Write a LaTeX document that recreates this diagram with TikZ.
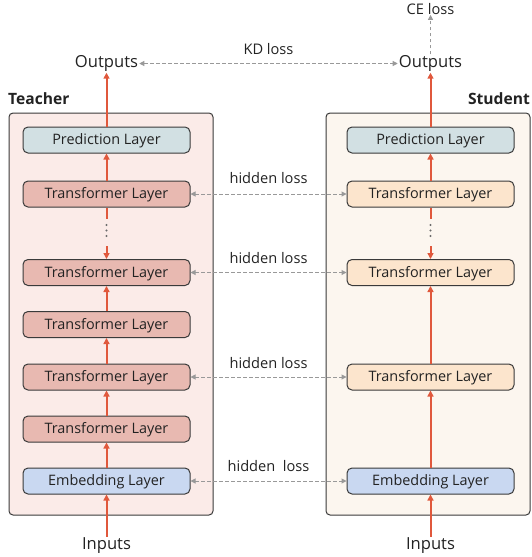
\documentclass[tikz,border=0pt]{standalone}
\usepackage{fontspec}
\setmainfont{Open Sans}
\usetikzlibrary{arrows.meta}
\definecolor{framebd}{HTML}{3A3A3A}
\definecolor{teacherbg}{HTML}{FBEBE8}
\definecolor{studentbg}{HTML}{FCF6EF}
\definecolor{predfill}{HTML}{D2E0E3}
\definecolor{ttfill}{HTML}{E8B9B1}
\definecolor{stfill}{HTML}{FCE5CD}
\definecolor{embfill}{HTML}{C9D8F1}
\definecolor{flowred}{HTML}{E0583C}
\definecolor{lossgray}{HTML}{999999}
\definecolor{txt}{HTML}{222222}
\tikzset{
  panel/.style={draw=framebd, line width=1pt, rounded corners=4pt},
  layerbox/.style={draw=framebd, line width=1pt, rounded corners=5pt,
    minimum width=167pt, minimum height=26pt, inner sep=0pt,
    text height=13pt, text depth=3.5pt,
    text=txt, font=\fontsize{14.4}{16}\selectfont},
  io/.style={text=txt, font=\fontsize{16.6}{19}\selectfont, inner sep=1pt},
  losslabel/.style={text=txt, font=\fontsize{14.6}{17}\selectfont, inner sep=0pt},
  title/.style={text=txt, font=\fontsize{15.6}{18}\selectfont\bfseries, inner sep=0pt},
  flow/.style={draw=flowred, line width=2pt, -{Triangle[length=6pt,width=6pt]}},
  flowplain/.style={draw=flowred, line width=2pt},
  lossarrow/.style={draw=lossgray, line width=1pt, dash pattern=on 3.5pt off 2.5pt,
    {Triangle[length=5pt,width=5pt]}-{Triangle[length=5pt,width=5pt]}},
  lossone/.style={draw=lossgray, line width=1pt, dash pattern=on 3.5pt off 2.5pt,
    -{Triangle[length=5pt,width=5pt]}},
  dotcol/.style={fill=framebd!75, draw=none}
}
\begin{document}
\begin{tikzpicture}[x=1pt,y=-1pt]
\useasboundingbox (0,0) rectangle (532,557);

% panels
\draw[panel, fill=teacherbg] (9,113) rectangle (213,515);
\draw[panel, fill=studentbg] (326,113) rectangle (530,515);
\node[title, anchor=west] (tteach) at (8,99) {Teacher};
\node[title, anchor=east] (tstud) at (530,99) {Student};

% teacher stack
\node[layerbox, fill=predfill] (tP) at (106.5,140) {Prediction Layer};
\node[layerbox, fill=ttfill] (t4) at (106.5,194) {Transformer Layer};
\node[layerbox, fill=ttfill] (t3) at (106.5,272.5) {Transformer Layer};
\node[layerbox, fill=ttfill] (t2) at (106.5,324.5) {Transformer Layer};
\node[layerbox, fill=ttfill] (t1) at (106.5,377) {Transformer Layer};
\node[layerbox, fill=ttfill] (t0) at (106.5,429) {Transformer Layer};
\node[layerbox, fill=embfill] (tE) at (106.5,481) {Embedding Layer};

% student stack
\node[layerbox, fill=predfill] (sP) at (430.5,140) {Prediction Layer};
\node[layerbox, fill=stfill] (s4) at (430.5,194) {Transformer Layer};
\node[layerbox, fill=stfill] (s3) at (430.5,272.5) {Transformer Layer};
\node[layerbox, fill=stfill] (s1) at (430.5,377) {Transformer Layer};
\node[layerbox, fill=embfill] (sE) at (430.5,481) {Embedding Layer};

% inputs and outputs
\node[io] (tIn) at (106.5,546) {Inputs};
\node[io] (sIn) at (430.5,546) {Inputs};
\node[io] (tOut) at (106.5,63.5) {Outputs};
\node[io] (sOut) at (430.5,63.5) {Outputs};
\node[losslabel] (ce) at (430.5,9) {CE loss};

% elided layers between the top two transformer layers
\foreach \side/\x in {t/106.5, s/430.5} {
  \coordinate (\side gapA) at (\x,219);
  \coordinate (\side gapB) at (\x,246);
  \foreach \yy in {225,230.5,236} \fill[dotcol] (\x,\yy) circle (1.2pt);
}

% forward flow, teacher
\draw[flow] (tIn.north) -- (tE.south);
\draw[flow] (tE.north) -- (t0.south);
\draw[flow] (t0.north) -- (t1.south);
\draw[flow] (t1.north) -- (t2.south);
\draw[flow] (t2.north) -- (t3.south);
\draw[flow] (tgapB) -- (t3.north);
\draw[flowplain] (t4.south) -- (tgapA);
\draw[flow] (t4.north) -- (tP.south);
\draw[flow] (tP.north) -- (tOut.south);

% forward flow, student
\draw[flow] (sIn.north) -- (sE.south);
\draw[flow] (sE.north) -- (s1.south);
\draw[flow] (s1.north) -- (s3.south);
\draw[flow] (sgapB) -- (s3.north);
\draw[flowplain] (s4.south) -- (sgapA);
\draw[flow] (s4.north) -- (sP.south);
\draw[flow] (sP.north) -- (sOut.south);

% distillation losses
\draw[lossarrow] (tOut.east) -- node[losslabel, above=8.5pt] {KD loss} (sOut.west);
\draw[lossone] (sOut.north) -- (ce.south);
\draw[lossarrow] (t4.east) -- node[losslabel, above=10pt] {hidden loss} (s4.west);
\draw[lossarrow] (t3.east) -- node[losslabel, above=8pt] {hidden loss} (s3.west);
\draw[lossarrow] (t1.east) -- node[losslabel, above=8pt] {hidden loss} (s1.west);
\draw[lossarrow] (tE.east) -- node[losslabel, above=9pt] {hidden\ \ loss} (sE.west);
\end{tikzpicture}
\end{document}
